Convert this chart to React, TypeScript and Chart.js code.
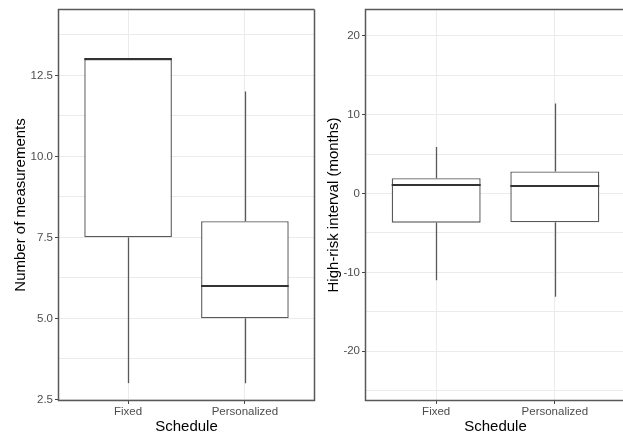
import React, { useEffect, useRef } from "react";
import { Chart, registerables } from "chart.js";

Chart.register(...registerables);

// ---------- data ----------
const categories = ["Fixed", "Personalized"];
const xTitle = "Schedule";

// Left panel: Number of measurements
const measTitle = "Number of measurements";
const measLow = [3, 3];
const measQ1 = [7.5, 5];
const measMedian = [13, 6];
const measQ3 = [13, 8];
const measHigh = [13, 12];
const measMajorTicks = [2.5, 5, 7.5, 10, 12.5];
const measTickLabels = ["2.5", "5.0", "7.5", "10.0", "12.5"];
const measMinorTicks = [3.75, 6.25, 8.75, 11.25, 13.75];
const measRange = [2.45, 14.55];

// Right panel: High-risk interval (months)
const intTitle = "High-risk interval (months)";
const intLow = [-11, -13.1];
const intQ1 = [-3.7, -3.65];
const intMedian = [1.05, 0.9];
const intQ3 = [1.95, 2.8];
const intHigh = [5.9, 11.4];
const intMajorTicks = [-20, -10, 0, 10, 20];
const intTickLabels = ["-20", "-10", "0", "10", "20"];
const intMinorTicks = [-25, -15, -5, 5, 15];
const intRange = [-26.3, 23.4];

// ---------- styles ----------
const FONT = "'Liberation Sans', Arial, sans-serif";
const GRID = "#ebebeb";
const LINE = "#595959";
const MEDIAN = "#333333";
const TICKTEXT = "#4d4d4d";

type PanelProps = {
  width: number;
  height: number;
  left: number;
  yAxisWidth: number;
  padRight: number;
  titlePad: number;
  yTitle: string;
  low: number[];
  q1: number[];
  median: number[];
  q3: number[];
  high: number[];
  majors: number[];
  majorLabels: string[];
  minors: number[];
  range: number[];
  drawRight: boolean;
};

function Panel(p: PanelProps) {
  const ref = useRef<HTMLCanvasElement | null>(null);

  useEffect(() => {
    if (!ref.current) return;

    const boxParts = {
      id: "boxParts",
      beforeDatasetsDraw(chart: any) {
        const { ctx, scales, chartArea } = chart;
        const x = scales.x;
        const y = scales.y;
        ctx.save();
        ctx.beginPath();
        ctx.rect(chartArea.left, chartArea.top, chartArea.right - chartArea.left, chartArea.bottom - chartArea.top);
        ctx.clip();
        ctx.strokeStyle = LINE;
        ctx.lineWidth = 1.3;
        categories.forEach((_, i) => {
          const px = Math.round(x.getPixelForValue(i + 1)) + 0.5;
          ctx.beginPath();
          ctx.moveTo(px, y.getPixelForValue(p.low[i]));
          ctx.lineTo(px, y.getPixelForValue(p.q1[i]));
          ctx.moveTo(px, y.getPixelForValue(p.q3[i]));
          ctx.lineTo(px, y.getPixelForValue(p.high[i]));
          ctx.stroke();
        });
        ctx.restore();
      },
      afterDatasetsDraw(chart: any) {
        const { ctx, scales } = chart;
        const y = scales.y;
        const meta = chart.getDatasetMeta(0);
        ctx.save();
        ctx.strokeStyle = MEDIAN;
        ctx.lineWidth = 2;
        meta.data.forEach((bar: any, i: number) => {
          const { x: cx, width } = bar.getProps(["x", "width"], true);
          const py = Math.round(y.getPixelForValue(p.median[i]));
          ctx.beginPath();
          ctx.moveTo(cx - width / 2, py);
          ctx.lineTo(cx + width / 2, py);
          ctx.stroke();
        });
        ctx.restore();
      },
      afterDraw(chart: any) {
        const { ctx, chartArea } = chart;
        ctx.save();
        ctx.strokeStyle = LINE;
        ctx.lineWidth = 1.5;
        const l = Math.round(chartArea.left) + 0.5;
        const t = Math.round(chartArea.top) + 0.5;
        const r = Math.round(chartArea.right) - 0.5;
        const b = Math.round(chartArea.bottom) - 0.5;
        ctx.beginPath();
        ctx.moveTo(r, t);
        ctx.lineTo(l, t);
        ctx.lineTo(l, b);
        ctx.lineTo(r, b);
        if (p.drawRight) ctx.lineTo(r, t);
        ctx.stroke();
        ctx.restore();
      },
    };

    const chart = new Chart(ref.current, {
      type: "bar",
      data: {
        datasets: [
          {
            data: categories.map((_, i) => ({ x: i + 1, y: [p.q1[i], p.q3[i]] })) as any,
            backgroundColor: "#ffffff",
            borderColor: LINE,
            borderWidth: 1.4,
            borderSkipped: false,
            categoryPercentage: 1,
            barPercentage: 0.75,
          },
        ],
      },
      options: {
        responsive: false,
        animation: false,
        events: [],
        layout: { padding: { top: 7, right: p.padRight, bottom: 0, left: 0 } },
        plugins: { legend: { display: false }, tooltip: { enabled: false } },
        scales: {
          x: {
            type: "linear",
            min: 0.4,
            max: 2.6,
            offset: false,
            grid: {
              offset: false,
              color: GRID,
              lineWidth: 1,
              tickLength: 3,
              tickColor: "#444444",
            },
            border: { display: false },
            afterBuildTicks: (scale: any) => {
              scale.ticks = categories.map((_, i) => ({ value: i + 1 }));
            },
            afterFit: (scale: any) => {
              scale.height = 39;
            },
            ticks: {
              padding: 1,
              maxRotation: 0,
              autoSkip: false,
              color: TICKTEXT,
              font: { family: FONT, size: 11.5 },
              callback: (v: any) => categories[Math.round(Number(v)) - 1] ?? "",
            },
            title: {
              display: true,
              text: xTitle,
              color: "#000000",
              font: { family: FONT, size: 15 },
              padding: { top: 0, bottom: 4 },
            },
          },
          y: {
            type: "linear",
            min: p.range[0],
            max: p.range[1],
            beginAtZero: false,
            grid: {
              color: GRID,
              lineWidth: 1,
              tickLength: 3,
              tickColor: (ctx: any) =>
                ctx.tick && p.majors.includes(ctx.tick.value) ? "#444444" : "rgba(0,0,0,0)",
            },
            border: { display: false },
            afterBuildTicks: (scale: any) => {
              const all = [...p.majors, ...p.minors]
                .filter((v) => v >= p.range[0] && v <= p.range[1])
                .sort((a, b) => a - b);
              scale.ticks = all.map((v) => ({ value: v }));
            },
            afterFit: (scale: any) => {
              scale.width = p.yAxisWidth;
            },
            ticks: {
              padding: 2,
              autoSkip: false,
              color: TICKTEXT,
              font: { family: FONT, size: 11.5 },
              callback: (v: any) => {
                const idx = p.majors.indexOf(Number(v));
                return idx >= 0 ? p.majorLabels[idx] : "";
              },
            },
            title: {
              display: true,
              text: p.yTitle,
              color: "#000000",
              font: { family: FONT, size: 15 },
              padding: { top: p.titlePad, bottom: 0 },
            },
          },
        },
      } as any,
      plugins: [boxParts],
    });

    return () => chart.destroy();
  }, []);

  return (
    <canvas
      ref={ref}
      width={p.width}
      height={p.height}
      style={{ position: "absolute", left: p.left, top: 0, width: p.width, height: p.height }}
    />
  );
}

export default function App() {
  useEffect(() => {
    document.body.style.margin = "0";
  }, []);
  return (
    <div
      style={{
        position: "fixed",
        left: 0,
        top: 0,
        width: 623,
        height: 440,
        overflow: "hidden",
        background: "#ffffff",
      }}
    >
      <Panel
        width={318}
        height={440}
        left={0}
        yAxisWidth={58}
        padRight={3}
        titlePad={12}
        yTitle={measTitle}
        low={measLow}
        q1={measQ1}
        median={measMedian}
        q3={measQ3}
        high={measHigh}
        majors={measMajorTicks}
        majorLabels={measTickLabels}
        minors={measMinorTicks}
        range={measRange}
        drawRight={true}
      />
      <Panel
        width={312}
        height={440}
        left={318}
        yAxisWidth={47}
        padRight={4}
        titlePad={7}
        yTitle={intTitle}
        low={intLow}
        q1={intQ1}
        median={intMedian}
        q3={intQ3}
        high={intHigh}
        majors={intMajorTicks}
        majorLabels={intTickLabels}
        minors={intMinorTicks}
        range={intRange}
        drawRight={false}
      />
    </div>
  );
}
